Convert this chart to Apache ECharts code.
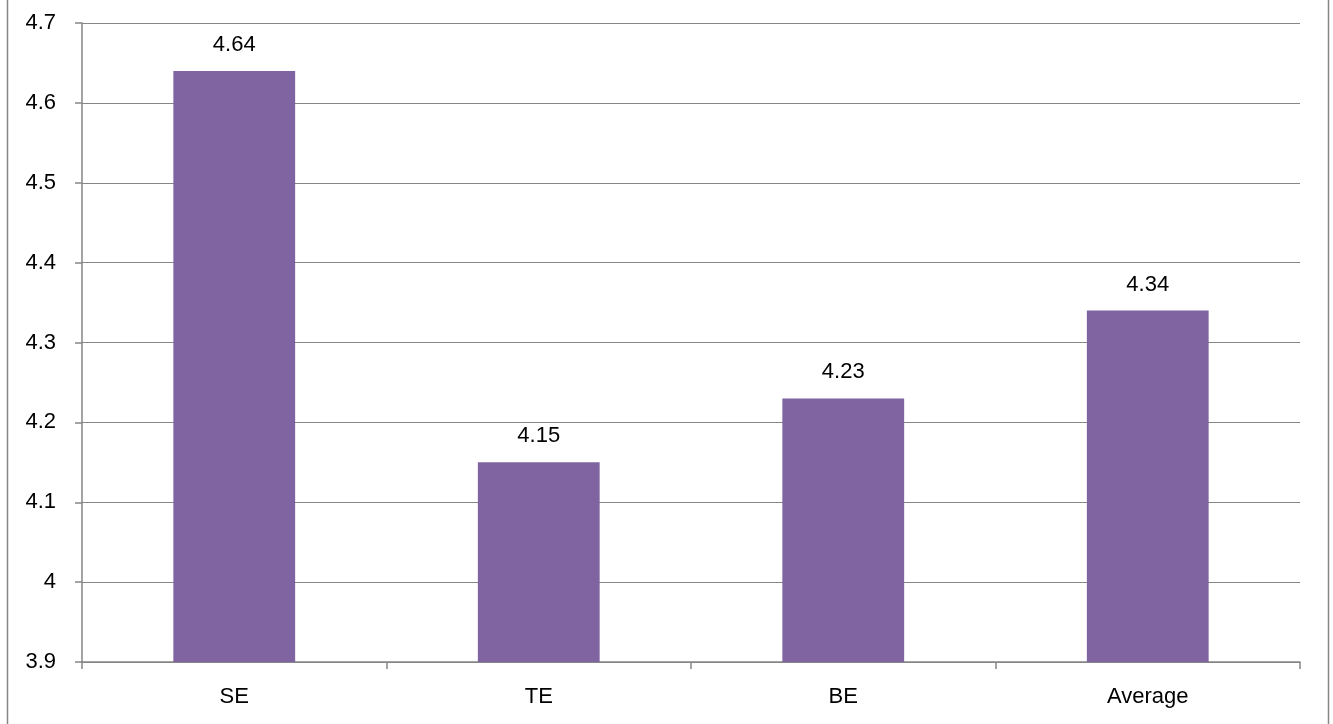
<!DOCTYPE html>
<html>
<head>
<meta charset="utf-8">
<script src="https://cdn.jsdelivr.net/npm/echarts@6/dist/echarts.min.js"></script>
<style>
  html, body { margin: 0; padding: 0; background: #fff; }
  #chart { width: 1333px; height: 724px; }
</style>
</head>
<body>
<div id="chart"></div>
<script>
const categories = ['SE', 'TE', 'BE', 'Average']
const scores = [4.64, 4.15, 4.23, 4.34]
const yMin = 3.9
const yMax = 4.7

const barColor = '#8064A2'
const lineColor = '#868686'
const fontFamily = '"Liberation Sans", Arial, sans-serif'

const chart = echarts.init(document.getElementById('chart'))

chart.setOption({
  animation: false,
  backgroundColor: '#fff',
  grid: { left: 82, right: 33, top: 23, bottom: 62 },
  graphic: [
    {
      type: 'rect',
      shape: { x: 7.5, y: -2, width: 1321, height: 730 },
      style: { fill: 'none', stroke: lineColor, lineWidth: 1.5 },
      silent: true
    }
  ],
  xAxis: {
    type: 'category',
    data: categories,
    axisLine: { lineStyle: { color: lineColor, width: 1.5 } },
    axisTick: { show: true, length: 7, lineStyle: { color: lineColor, width: 1.5 } },
    axisLabel: { color: '#000', fontSize: 22, fontFamily, margin: 24 }
  },
  yAxis: {
    type: 'value',
    min: yMin,
    max: yMax,
    interval: 0.1,
    axisLine: { show: true, lineStyle: { color: lineColor, width: 1.5 } },
    axisTick: { show: true, length: 7, lineStyle: { color: lineColor, width: 1.5 } },
    splitLine: { show: true, lineStyle: { color: lineColor, width: 1.2 } },
    axisLabel: {
      color: '#000', fontSize: 22, fontFamily, margin: 26,
      formatter: v => String(Math.round(v * 10) / 10)
    }
  },
  series: [
    {
      type: 'bar',
      data: scores,
      barWidth: '40%',
      itemStyle: { color: barColor },
      label: {
        show: true,
        position: 'top',
        distance: 15,
        color: '#000',
        fontSize: 22,
        fontFamily,
        formatter: p => p.value.toFixed(2)
      }
    }
  ]
})
</script>
</body>
</html>
